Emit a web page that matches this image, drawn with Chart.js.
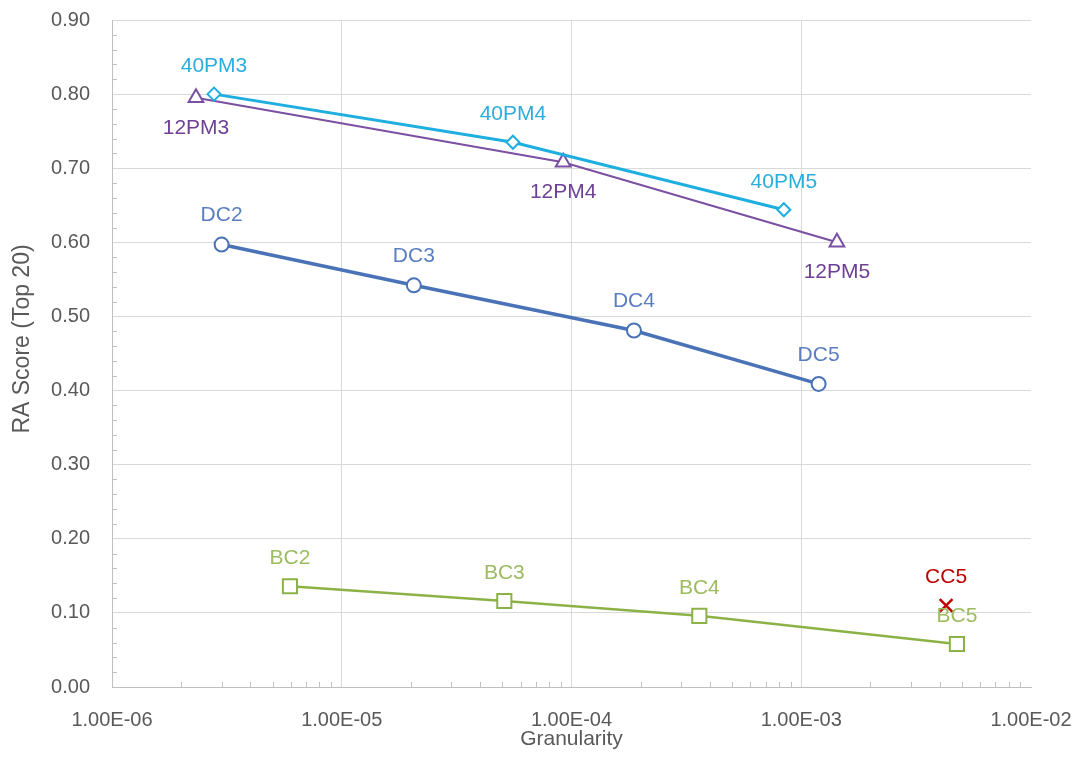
<!DOCTYPE html>
<html>
<head>
<meta charset="utf-8">
<script src="https://cdn.jsdelivr.net/npm/chart.js@4.4.1/dist/chart.umd.min.js"></script>
<style>
  html, body { margin: 0; padding: 0; background: #fff; }
  #wrap { width: 1077px; height: 763px; }
</style>
</head>
<body>
<div id="wrap"><canvas id="myChart"></canvas></div>
<script>
// Granularity (x) and RA score (y) for each series
const pm40Names = ['40PM3', '40PM4', '40PM5'];
const pm40X = [2.78e-6, 5.56e-5, 8.4e-4];
const pm40Y = [0.800, 0.735, 0.644];

const pm12Names = ['12PM3', '12PM4', '12PM5'];
const pm12X = [2.32e-6, 9.2e-5, 1.43e-3];
const pm12Y = [0.795, 0.708, 0.600];

const dcNames = ['DC2', 'DC3', 'DC4', 'DC5'];
const dcX = [3.0e-6, 2.06e-5, 1.87e-4, 1.19e-3];
const dcY = [0.597, 0.542, 0.481, 0.409];

const bcNames = ['BC2', 'BC3', 'BC4', 'BC5'];
const bcX = [5.95e-6, 5.1e-5, 3.6e-4, 4.76e-3];
const bcY = [0.136, 0.116, 0.096, 0.058];

const ccNames = ['CC5'];
const ccX = [4.27e-3];
const ccY = [0.110];

const xTicks = [1e-6, 1e-5, 1e-4, 1e-3, 1e-2];
const yTicks = [0, 0.1, 0.2, 0.3, 0.4, 0.5, 0.6, 0.7, 0.8, 0.9];

const FONT = '"Liberation Sans", Arial, sans-serif';

function pts(xs, ys) {
    return xs.map((x, i) => ({ x: x, y: ys[i] }));
}

// point name labels above / below each marker
const pointLabels = {
    id: 'pointLabels',
    afterDatasetsDraw(chart) {
        const c = chart.ctx;
        c.save();
        c.font = '21px ' + FONT;
        c.textAlign = 'center';
        c.textBaseline = 'middle';
        chart.data.datasets.forEach((ds, di) => {
            const meta = chart.getDatasetMeta(di);
            c.fillStyle = ds.labelColor;
            meta.data.forEach((el, i) => {
                c.fillText(ds.names[i], el.x, el.y + ds.labelDy);
            });
        });
        c.restore();
    }
};

// small inside tick marks (log minors on x, 0.02 steps on y) + y title
const minorTicks = {
    id: 'minorTicks',
    beforeDatasetsDraw(chart) {
        const c = chart.ctx;
        const xs = chart.scales.x, ys = chart.scales.y;
        const area = chart.chartArea;
        c.save();
        c.strokeStyle = '#bfbfbf';
        c.lineWidth = 1;
        c.beginPath();
        for (let d = -6; d < -2; d++) {
            for (let m = 2; m <= 9; m++) {
                const px = Math.round(xs.getPixelForValue(m * Math.pow(10, d))) + 0.5;
                c.moveTo(px, area.bottom);
                c.lineTo(px, area.bottom - 5);
            }
        }
        for (let k = 1; k < 45; k++) {
            if (k % 5 === 0) continue;
            const py = Math.round(ys.getPixelForValue(k * 0.02)) + 0.5;
            c.moveTo(area.left, py);
            c.lineTo(area.left + 5, py);
        }
        c.stroke();

        // axis title sits a bit above the middle in the original
        c.translate(23, 339);
        c.rotate(-Math.PI / 2);
        c.font = '23px ' + FONT;
        c.fillStyle = '#595959';
        c.textAlign = 'center';
        c.textBaseline = 'middle';
        c.fillText('RA Score (Top 20)', 0, 0);
        c.restore();
    }
};

function noEdgePadding(scale) {
    scale.paddingTop = 0;
    scale.paddingBottom = 0;
    scale.paddingLeft = 0;
    scale.paddingRight = 0;
}

const ctx = document.getElementById('myChart').getContext('2d');
const chart = new Chart(ctx, {
    type: 'line',
    data: {
        datasets: [{
            label: '40PM',
            names: pm40Names,
            data: pts(pm40X, pm40Y),
            borderColor: '#1eaee0',
            borderWidth: 3,
            pointStyle: 'rectRot',
            pointRadius: 6.5,
            pointBorderWidth: 2,
            pointBackgroundColor: '#fff',
            pointBorderColor: '#1eaee0',
            labelColor: '#2badde',
            labelDy: -28
        }, {
            label: '12PM',
            names: pm12Names,
            data: pts(pm12X, pm12Y),
            borderColor: '#7a50a2',
            borderWidth: 2,
            pointStyle: 'triangle',
            pointRadius: 8.5,
            pointBorderWidth: 2,
            pointBackgroundColor: '#fff',
            pointBorderColor: '#7a50a2',
            labelColor: '#6e3f96',
            labelDy: 30
        }, {
            label: 'DC',
            names: dcNames,
            data: pts(dcX, dcY),
            borderColor: '#4a72b6',
            borderWidth: 3.5,
            pointStyle: 'circle',
            pointRadius: 7,
            pointBorderWidth: 2,
            pointBackgroundColor: '#fff',
            pointBorderColor: '#4a72b6',
            labelColor: '#5a7ec0',
            labelDy: -29
        }, {
            label: 'BC',
            names: bcNames,
            data: pts(bcX, bcY),
            borderColor: '#8cb247',
            borderWidth: 2.5,
            pointStyle: 'rect',
            pointRadius: 10,
            pointBorderWidth: 2,
            pointBackgroundColor: '#fff',
            pointBorderColor: '#8cb247',
            labelColor: '#9dbb5f',
            labelDy: -28
        }, {
            label: 'CC',
            names: ccNames,
            data: pts(ccX, ccY),
            showLine: false,
            borderColor: '#c00000',
            pointStyle: 'crossRot',
            pointRadius: 9,
            pointBorderWidth: 2.5,
            pointBorderColor: '#c00000',
            labelColor: '#c00000',
            labelDy: -28
        }]
    },
    options: {
        responsive: true,
        maintainAspectRatio: false,
        animation: false,
        layout: {
            padding: { top: 20, right: 46, left: 0, bottom: 0 }
        },
        plugins: {
            legend: { display: false },
            tooltip: { enabled: false }
        },
        scales: {
            x: {
                type: 'logarithmic',
                min: 1e-6,
                max: 1e-2,
                afterBuildTicks(scale) {
                    scale.ticks = xTicks.map(v => ({ value: v }));
                },
                afterFit(scale) {
                    scale.height = 76;
                    noEdgePadding(scale);
                },
                ticks: {
                    color: '#595959',
                    font: { size: 20, family: FONT },
                    padding: 21,
                    maxRotation: 0,
                    autoSkip: false,
                    callback: v => {
                        const e = Math.round(Math.log10(v));
                        return '1.00E-' + String(-e).padStart(2, '0');
                    }
                },
                grid: {
                    color: c => (c.tick && c.tick.value === 1e-2) ? 'rgba(0,0,0,0)' : '#d9d9d9',
                    drawTicks: false
                },
                border: { color: '#bfbfbf' },
                title: {
                    display: true,
                    text: 'Granularity',
                    color: '#595959',
                    font: { size: 21, family: FONT },
                    padding: { top: 0, bottom: 11 }
                }
            },
            y: {
                min: 0,
                max: 0.9,
                afterBuildTicks(scale) {
                    scale.ticks = yTicks.map(v => ({ value: v }));
                },
                afterFit(scale) {
                    scale.width = 112;
                    noEdgePadding(scale);
                },
                ticks: {
                    color: '#595959',
                    font: { size: 20, family: FONT },
                    padding: 22,
                    callback: v => v.toFixed(2)
                },
                grid: {
                    color: '#d9d9d9',
                    drawTicks: false
                },
                border: { color: '#bfbfbf' }
            }
        }
    },
    plugins: [minorTicks, pointLabels]
});
</script>
</body>
</html>
